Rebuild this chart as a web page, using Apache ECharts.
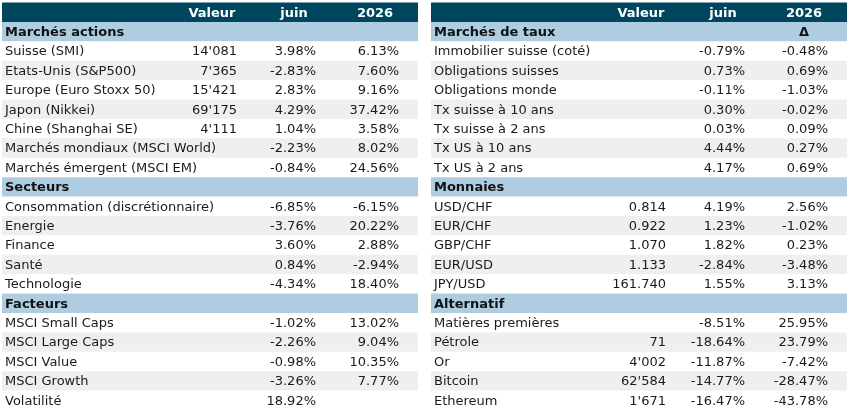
<!DOCTYPE html>
<html>
<head>
<meta charset="utf-8">
<script src="https://cdn.jsdelivr.net/npm/echarts@6/dist/echarts.min.js"></script>
<style>
html,body{margin:0;padding:0;background:#fff;}
#chart{width:849px;height:410px;}
</style>
</head>
<body>
<div id="chart"></div>
<script>
// ---------- DATA ----------
const columnHeaders = ['Valeur', 'juin', '2026'];

const actionsTitle = 'Marchés actions';
const actionsNames = ['Suisse (SMI)', 'Etats-Unis (S&P500)', 'Europe (Euro Stoxx 50)', 'Japon (Nikkei)', 'Chine (Shanghai SE)', 'Marchés mondiaux (MSCI World)', 'Marchés émergent (MSCI EM)'];
const actionsValeur = [14081, 7365, 15421, 69175, 4111, null, null];
const actionsJuin = [3.98, -2.83, 2.83, 4.29, 1.04, -2.23, -0.84];
const actions2026 = [6.13, 7.60, 9.16, 37.42, 3.58, 8.02, 24.56];

const secteursTitle = 'Secteurs';
const secteursNames = ['Consommation (discrétionnaire)', 'Energie', 'Finance', 'Santé', 'Technologie'];
const secteursJuin = [-6.85, -3.76, 3.60, 0.84, -4.34];
const secteurs2026 = [-6.15, 20.22, 2.88, -2.94, 18.40];

const facteursTitle = 'Facteurs';
const facteursNames = ['MSCI Small Caps', 'MSCI Large Caps', 'MSCI Value', 'MSCI Growth', 'Volatilité'];
const facteursJuin = [-1.02, -2.26, -0.98, -3.26, 18.92];
const facteurs2026 = [13.02, 9.04, 10.35, 7.77, null];

const tauxTitle = 'Marchés de taux';
const tauxMark = 'Δ';
const tauxNames = ['Immobilier suisse (coté)', 'Obligations suisses', 'Obligations monde', 'Tx suisse à 10 ans', 'Tx suisse à 2 ans', 'Tx US à 10 ans', 'Tx US à 2 ans'];
const tauxJuin = [-0.79, 0.73, -0.11, 0.30, 0.03, 4.44, 4.17];
const taux2026 = [-0.48, 0.69, -1.03, -0.02, 0.09, 0.27, 0.69];

const monnaiesTitle = 'Monnaies';
const monnaiesNames = ['USD/CHF', 'EUR/CHF', 'GBP/CHF', 'EUR/USD', 'JPY/USD'];
const monnaiesValeur = [0.814, 0.922, 1.070, 1.133, 161.740];
const monnaiesJuin = [4.19, 1.23, 1.82, -2.84, 1.55];
const monnaies2026 = [2.56, -1.02, 0.23, -3.48, 3.13];

const alternatifTitle = 'Alternatif';
const alternatifNames = ['Matières premières', 'Pétrole', 'Or', 'Bitcoin', 'Ethereum'];
const alternatifValeur = [null, 71, 4002, 62584, 1671];
const alternatifJuin = [-8.51, -18.64, -11.87, -14.77, -16.47];
const alternatif2026 = [25.95, 23.79, -7.42, -28.47, -43.78];

// ---------- FORMATTING ----------
function fmtValeur(v, dec) {
  if (v === null || v === undefined) return '';
  if (dec > 0) return v.toFixed(dec);
  return Math.round(v).toString().replace(/\B(?=(\d{3})+(?!\d))/g, "'");
}
function fmtPct(v) {
  if (v === null || v === undefined) return '';
  return v.toFixed(2) + '%';
}

function buildRows(sections) {
  const rows = [{ type: 'header', cells: columnHeaders }];
  sections.forEach(s => {
    rows.push({ type: 'section', label: s.title, mark: s.mark || '' });
    s.names.forEach((n, i) => {
      rows.push({
        type: 'item', stripe: i % 2 === 1, label: n,
        cells: [
          s.valeur ? fmtValeur(s.valeur[i], s.dec) : '',
          fmtPct(s.juin[i]),
          fmtPct(s.y2026[i])
        ]
      });
    });
  });
  return rows;
}

const leftRows = buildRows([
  { title: actionsTitle, names: actionsNames, valeur: actionsValeur, dec: 0, juin: actionsJuin, y2026: actions2026 },
  { title: secteursTitle, names: secteursNames, juin: secteursJuin, y2026: secteurs2026 },
  { title: facteursTitle, names: facteursNames, juin: facteursJuin, y2026: facteurs2026 }
]);
const rightRows = buildRows([
  { title: tauxTitle, mark: tauxMark, names: tauxNames, juin: tauxJuin, y2026: taux2026 },
  { title: monnaiesTitle, names: monnaiesNames, valeur: monnaiesValeur, dec: 3, juin: monnaiesJuin, y2026: monnaies2026 },
  { title: alternatifTitle, names: alternatifNames, valeur: alternatifValeur, dec: 0, juin: alternatifJuin, y2026: alternatif2026 }
]);

// ---------- LAYOUT / STYLE ----------
const TABLE_W = 416;
const LABEL_X = 3;
const HEADER_CENTERS = [210, 292, 373];
const VALUE_RIGHTS = [235, 314, 397];
const COL_HEADER = '#00465f';
const COL_SECTION = '#aecde0';
const COL_STRIPE = '#efefef';
const TEXT_COL = '#1a1a1a';
const FONT = '"DejaVu Sans", sans-serif';
const FS = 13;

function makeRender(rows) {
  return function (params, api) {
    const i = params.dataIndex;
    const r = rows[i];
    const c0 = api.coord([0, i]);
    const c1 = api.coord([TABLE_W, i]);
    const h = api.size([0, 1])[1];
    const yMid = c0[1];
    const ty = yMid + 1;
    let bg = '#ffffff';
    if (r.type === 'header') bg = COL_HEADER;
    else if (r.type === 'section') bg = COL_SECTION;
    else if (r.stripe) bg = COL_STRIPE;
    const children = [{
      type: 'rect',
      shape: { x: c0[0], y: yMid - h / 2, width: c1[0] - c0[0], height: h + 0.5 },
      style: { fill: bg }
    }];
    const txt = (x, s, align, bold, color) => ({
      type: 'text',
      x: api.coord([x, i])[0], y: ty,
      style: {
        text: s, align: align, verticalAlign: 'middle',
        fill: color, fontSize: FS, fontFamily: FONT, fontWeight: bold ? 'bold' : 'normal'
      }
    });
    if (r.type === 'header') {
      r.cells.forEach((s, k) => children.push(txt(HEADER_CENTERS[k], s, 'center', true, '#ffffff')));
    } else if (r.type === 'section') {
      children.push(txt(LABEL_X, r.label, 'left', true, '#111111'));
      if (r.mark) children.push(txt(HEADER_CENTERS[2], r.mark, 'center', true, '#111111'));
    } else {
      children.push(txt(LABEL_X, r.label, 'left', false, TEXT_COL));
      r.cells.forEach((s, k) => { if (s) children.push(txt(VALUE_RIGHTS[k], s, 'right', false, TEXT_COL)); });
    }
    return { type: 'group', children: children };
  };
}

const chart = echarts.init(document.getElementById('chart'), null, { renderer: 'canvas' });
const grids = [
  { left: 2, top: 2.5, width: TABLE_W, height: leftRows.length * 19.45 },
  { left: 431, top: 2.5, width: TABLE_W, height: rightRows.length * 19.45 }
];
const xAxes = [0, 1].map(g => ({ type: 'value', gridIndex: g, min: 0, max: TABLE_W, show: false }));
const yAxes = [leftRows, rightRows].map((rows, g) => ({
  type: 'category', gridIndex: g, inverse: true, show: false,
  data: rows.map((_, i) => String(i))
}));

chart.setOption({
  animation: false,
  grid: grids,
  xAxis: xAxes,
  yAxis: yAxes,
  series: [leftRows, rightRows].map((rows, g) => ({
    type: 'custom',
    xAxisIndex: g, yAxisIndex: g,
    clip: false,
    renderItem: makeRender(rows),
    data: rows.map((_, i) => [0, i])
  }))
});
</script>
</body>
</html>
